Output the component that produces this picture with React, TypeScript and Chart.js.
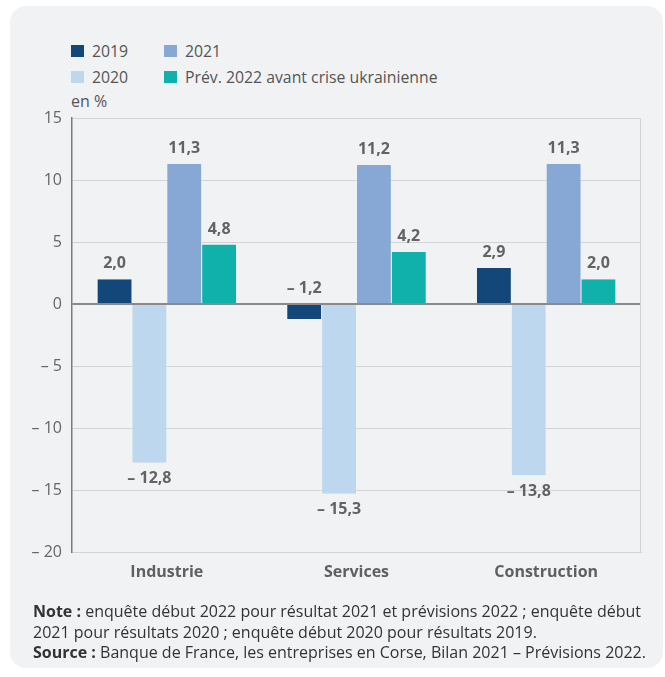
import React, { useEffect, useRef } from "react";
import { Chart, registerables } from "chart.js";

Chart.register(...registerables);

const categories = ["Industrie", "Services", "Construction"];
const seriesNames = ["2019", "2020", "2021", "Prév. 2022 avant crise ukrainienne"];
const values2019 = [2.0, -1.2, 2.9];
const values2020 = [-12.8, -15.3, -13.8];
const values2021 = [11.3, 11.2, 11.3];
const values2022 = [4.8, 4.2, 2.0];
const seriesColors = ["#134679", "#bdd7ef", "#87a8d4", "#10b1aa"];
const yTicks = [15, 10, 5, 0, -5, -10, -15, -20];

const FONT = "'Open Sans', 'Noto Sans', sans-serif";

const fmt = (v: number) => {
  const s = Math.abs(v).toFixed(1).replace(".", ",");
  return v < 0 ? "\u2013 " + s : s;
};

const labelPlugin = {
  id: "valueLabels",
  afterDatasetsDraw(chart: any) {
    const ctx = chart.ctx;
    const yScale = chart.scales.y;
    ctx.save();
    ctx.font = `bold 16px ${FONT}`;
    ctx.fillStyle = "#636363";
    ctx.textAlign = "center";
    ctx.textBaseline = "middle";
    chart.data.datasets.forEach((ds: any, di: number) => {
      const meta = chart.getDatasetMeta(di);
      meta.data.forEach((bar: any, i: number) => {
        const v = ds.data[i];
        let y;
        if (v > -5) {
          y = yScale.getPixelForValue(Math.max(v, 0)) - 15.5;
        } else {
          y = yScale.getPixelForValue(v) + 16;
        }
        ctx.fillText(fmt(v), bar.x, y);
      });
    });
    ctx.restore();
  },
};

const borderPlugin = {
  id: "rightBorder",
  beforeDatasetsDraw(chart: any) {
    const { ctx, chartArea } = chart;
    ctx.save();
    ctx.strokeStyle = "#d2d3d6";
    ctx.lineWidth = 1;
    ctx.beginPath();
    ctx.moveTo(chartArea.right - 0.5, chartArea.top);
    ctx.lineTo(chartArea.right - 0.5, chartArea.bottom);
    ctx.stroke();
    ctx.restore();
  },
};

export default function App() {
  const canvasRef = useRef<HTMLCanvasElement | null>(null);

  useEffect(() => {
    if (!canvasRef.current) return;
    const allValues = [values2019, values2020, values2021, values2022];
    const chart = new Chart(canvasRef.current, {
      type: "bar",
      data: {
        labels: categories,
        datasets: allValues.map((vals, i) => ({
          label: seriesNames[i],
          data: vals,
          backgroundColor: seriesColors[i],
          borderColor: "#f1f2f4",
          borderWidth: { left: 0.5, right: 0.5, top: 0, bottom: 0 },
          borderSkipped: false,
          categoryPercentage: 0.735,
          barPercentage: 1,
        })),
      },
      options: {
        animation: false,
        responsive: false,
        maintainAspectRatio: false,
        layout: { padding: { left: 0, right: 24, top: 118, bottom: 85 } },
        plugins: { legend: { display: false }, tooltip: { enabled: false } },
        scales: {
          x: {
            grid: { display: false, drawTicks: false },
            border: { display: true, color: "#d2d3d6", width: 1 },
            ticks: {
              padding: 11,
              color: "#606060",
              font: { family: FONT, size: 16, weight: "bold" },
            },
            afterFit: (s: any) => {
              s.height = 40;
            },
          },
          y: {
            min: -20,
            max: 15,
            afterBuildTicks: (s: any) => {
              s.ticks = yTicks.map((v) => ({ value: v }));
            },
            grid: {
              drawTicks: false,
              color: (c: any) => (c.tick && c.tick.value === 0 ? "#8a8a8a" : "#d2d3d6"),
              lineWidth: (c: any) => (c.tick && c.tick.value === 0 ? 2 : 1),
            },
            border: { display: true, color: "#7a7a7a", width: 1.5 },
            ticks: {
              padding: 10,
              color: "#666666",
              font: { family: FONT, size: 16 },
              callback: (v: any) => fmt(Number(v)).replace(",0", ""),
            },
            afterFit: (s: any) => {
              s.width = 72;
            },
          },
        },
      },
      plugins: [labelPlugin, borderPlugin],
    });
    return () => chart.destroy();
  }, []);

  const legendItem = (i: number, left: number, top: number) => (
    <div
      key={i}
      style={{
        position: "absolute",
        left,
        top,
        display: "flex",
        alignItems: "center",
        height: 16,
      }}
    >
      <span
        style={{
          display: "inline-block",
          width: 13,
          height: 12,
          background: seriesColors[i],
          marginRight: 8,
        }}
      />
      <span style={{ fontSize: 15.8, color: "#555", whiteSpace: "nowrap" }}>{seriesNames[i]}</span>
    </div>
  );

  return (
    <div
      style={{
        position: "absolute",
        left: 0,
        top: 0,
        width: 665,
        height: 677,
        fontFamily: FONT,
        background: "#ffffff",
        overflow: "hidden",
      }}
    >
      <div
        style={{
          position: "absolute",
          left: 10,
          top: 6,
          width: 653,
          height: 662,
          background: "#f1f2f4",
          borderRadius: 16,
        }}
      />
      {legendItem(0, 71, 43)}
      {legendItem(2, 164, 43)}
      {legendItem(1, 71, 69)}
      {legendItem(3, 164, 69)}
      <div style={{ position: "absolute", left: 71, top: 90, fontSize: 16, color: "#555" }}>en %</div>
      <canvas
        ref={canvasRef}
        width={665}
        height={677}
        style={{ position: "absolute", left: 0, top: 0, width: 665, height: 677 }}
      />
      <div
        style={{
          position: "absolute",
          left: 33,
          top: 601,
          width: 632,
          fontSize: 16,
          lineHeight: "20.5px",
          color: "#333",
          whiteSpace: "nowrap",
        }}
      >
        <div>
          <b>Note :</b> enquête début 2022 pour résultat 2021 et prévisions 2022 ; enquête début
        </div>
        <div>2021 pour résultats 2020 ; enquête début 2020 pour résultats 2019.</div>
        <div>
          <b>Source :</b> Banque de France, les entreprises en Corse, Bilan 2021 – Prévisions 2022.
        </div>
      </div>
    </div>
  );
}
